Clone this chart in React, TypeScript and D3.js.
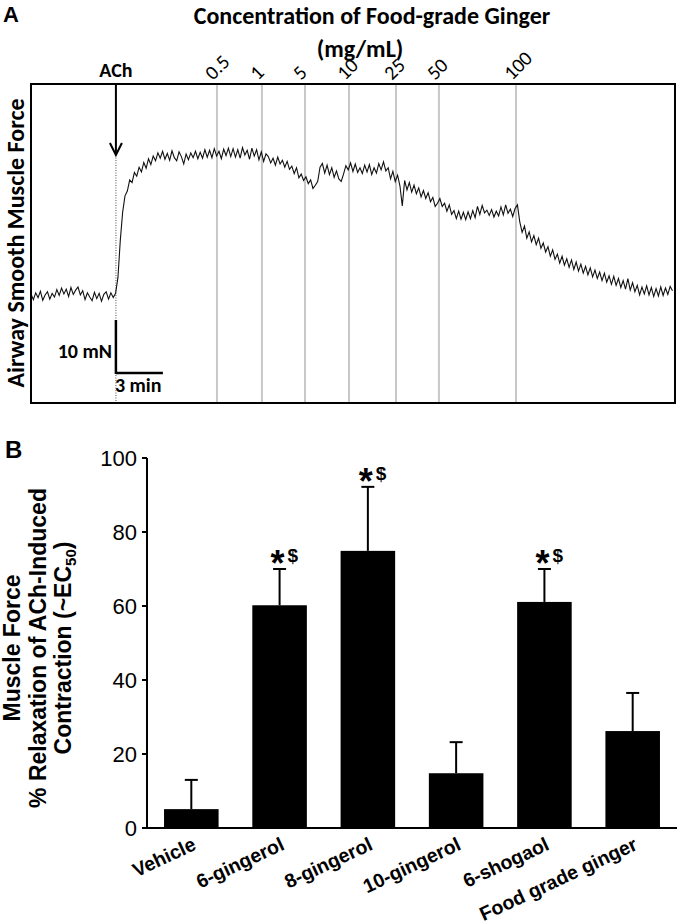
import React from 'react';
import * as d3 from 'd3';

// ---------- Panel A data ----------
const concLabels = ['0.5', '1', '5', '10', '25', '50', '100'];
const concTimes = [11.87, 14.74, 17.49, 20.3, 23.3, 26.04, 30.96]; // min
const achTime = 5.42; // min
const sampleStep = 0.15; // min between samples
const forceTrace = [
  0.4, -0.7, 0.6, -0.3, 0.9, -0.8, 0.2, 0.8, -0.6, 0.5, -0.2, 1.2, 0.1, 1.5, 0.4, 1.3, -0.1, 1.6, 0.3, 1.1,
  1.7, 0.2, 1.0, -0.7, 0.6, -0.2, -0.9, 0.7, -0.5, 0.5, -1.0, 0.3, 0.8, -0.6, 0.6, -0.3, 0.5,
  3.5, 10.5, 15.8, 18.9, 19.8, 21.9, 21.4, 23.3, 22.6, 24.3, 23.4, 25.2, 24.1, 25.9, 24.8, 26.4, 25.5, 27.0, 26.0,
  27.3, 25.8, 26.9, 25.6, 27.4, 26.1, 25.5, 27.2, 26.3, 24.9,
  26.8, 25.7, 27.0, 26.1, 27.3, 25.9, 27.1, 26.0, 27.6, 26.2,
  27.5, 26.1, 27.8, 26.4, 27.3, 25.9, 27.7, 26.5, 27.9, 26.3,
  27.8, 26.2, 27.6, 26.0, 28.0, 26.6, 27.5, 25.8, 27.9, 26.4,
  27.6, 25.7, 27.2, 25.4, 26.8,
  26.3, 25.1, 26.0, 24.7, 26.2, 24.9, 25.6, 24.3, 25.4, 23.9,
  24.5, 23.1, 24.2, 22.3, 23.0, 21.8, 22.5, 21.2, 21.9, 20.3,
  20.9, 21.6, 24.3, 25.0, 23.2, 24.7, 22.9, 24.2, 22.4, 23.6,
  22.1, 21.6, 23.0, 24.6, 23.8, 25.1, 23.5, 24.9, 23.3, 24.2,
  23.1, 24.7, 23.4, 24.8, 22.9, 24.2, 23.2, 25.0, 23.8, 25.3,
  23.6, 24.2, 22.1, 23.5, 21.6, 22.8, 20.8, 17.0, 21.8, 20.0,
  21.4, 19.6, 20.9, 19.3, 20.4, 18.7, 19.9, 18.4, 19.5, 17.8,
  18.6, 16.9, 17.5, 18.4, 16.9, 17.5, 16.0, 17.2, 15.4, 16.1,
  14.6, 16.0, 14.5, 15.8, 14.4, 15.9, 14.6, 16.1, 14.8, 16.9,
  15.4, 17.1, 15.7, 16.2, 15.2, 16.3, 14.9, 16.0, 15.1, 16.8,
  15.3, 17.2, 15.6, 16.4, 15.0, 16.5, 17.2, 14.0, 12.0, 13.2,
  10.9, 12.1, 10.2, 11.4, 9.7, 10.9, 9.0, 10.0, 8.3, 9.3,
  7.5, 8.7, 6.9, 7.9, 6.2, 7.5, 5.8, 7.0, 5.4, 6.8,
  5.0, 6.4, 4.7, 6.0, 4.3, 5.6, 4.0, 5.3, 3.6, 4.9,
  3.3, 4.5, 2.9, 4.3, 2.6, 3.8, 2.2, 3.7, 2.0, 3.3,
  1.6, 2.9, 1.3, 3.3, 1.1, 2.5, 0.8, 2.0, 0.2, 1.7,
  0.4, 1.9, 0.2, 1.6, -0.1, 1.4, 0.0, 1.7, 0.1, 1.5, 0.3, 1.8, 1.0,
];
const scaleForce = 10; // mN
const scaleTime = 3; // min

// ---------- Panel B data ----------
const categories = ['Vehicle', '6-gingerol', '8-gingerol', '10-gingerol', '6-shogaol', 'Food grade ginger'];
const relaxMean = [5.1, 60.2, 74.9, 14.8, 61.1, 26.2];
const relaxSEM = [7.9, 9.8, 17.3, 8.4, 8.9, 10.3];
const significant = [false, true, true, false, true, false];
const yTicks = [0, 20, 40, 60, 80, 100];

const CAL = 'Carlito, Lato, "Open Sans", sans-serif';
const ARIAL = '"Liberation Sans", Arial, sans-serif';

export default function App() {
  // Panel A scales
  const xT = d3.scaleLinear().domain([0, 41]).range([31, 673.3]);
  const yF = d3.scaleLinear().domain([-20.19, 40]).range([403, 84]);
  const boxL = 31, boxR = 675, boxT = 84, boxB = 403;
  const line = d3
    .line<number>()
    .x((_, i) => xT(i * sampleStep))
    .y((d) => yF(d));
  const ax = xT(achTime);
  const sbTop = yF(-14.53 + scaleForce);
  const sbBot = yF(-14.53);
  const sbRight = xT(achTime + scaleTime);

  // Panel B scales
  const xB = d3.scaleBand<string>().domain(categories).range([147, 677]).paddingInner(0.382).paddingOuter(0.193);
  const yB = d3.scaleLinear().domain([0, 100]).range([828, 458]);
  const bw = xB.bandwidth();

  return (
    <svg width={680} height={924} style={{ position: 'absolute', left: 0, top: 0, background: '#fff' }}>
      <rect x={0} y={0} width={680} height={924} fill="#fff" />
      {/* ---------------- Panel A ---------------- */}
      <text x={3} y={22} fontFamily={ARIAL} fontWeight="bold" fontSize={22}>A</text>
      <text x={372} y={24} textAnchor="middle" fontFamily={CAL} fontWeight="bold" fontSize={24}>
        Concentration of Food-grade Ginger
      </text>
      <text x={360} y={57} textAnchor="middle" fontFamily={CAL} fontWeight="bold" fontSize={24}>
        (mg/mL)
      </text>
      <text x={ax} y={77} textAnchor="middle" fontFamily={CAL} fontWeight="bold" fontSize={20}>ACh</text>
      {concTimes.map((t, i) => (
        <g key={i}>
          <line x1={xT(t)} x2={xT(t)} y1={boxT} y2={boxB} stroke="#c8c8c8" strokeWidth={2} />
          <text
            transform={`translate(${xT(t) - 4},${81}) rotate(-45)`}
            fontFamily={CAL}
            fontSize={20}
          >
            {concLabels[i]}
          </text>
        </g>
      ))}
      {/* dotted line under arrow */}
      <line x1={ax} x2={ax} y1={155} y2={boxB} stroke="#555" strokeWidth={1} strokeDasharray="1,1.5" />
      {/* trace */}
      <path d={line(forceTrace) || ''} fill="none" stroke="#111" strokeWidth={1.1} />
      {/* arrow */}
      <line x1={ax} x2={ax} y1={boxT} y2={154} stroke="#000" strokeWidth={2} />
      <path d={`M${ax - 6},${143} L${ax},${155} L${ax + 6},${143}`} fill="none" stroke="#000" strokeWidth={2} />
      {/* scale bar */}
      <line x1={ax} x2={ax} y1={sbTop} y2={sbBot + 1} stroke="#000" strokeWidth={2.5} />
      <line x1={ax} x2={sbRight} y1={sbBot} y2={sbBot} stroke="#000" strokeWidth={2.5} />
      <text x={ax - 4} y={358} textAnchor="end" fontFamily={CAL} fontWeight="bold" fontSize={20}>10 mN</text>
      <text x={ax - 1} y={392} fontFamily={CAL} fontWeight="bold" fontSize={20}>3 min</text>
      {/* box */}
      <rect x={boxL} y={boxT} width={boxR - boxL} height={boxB - boxT} fill="none" stroke="#000" strokeWidth={2} />
      <text
        transform={`translate(24,${243}) rotate(-90)`}
        textAnchor="middle"
        fontFamily={CAL}
        fontWeight="bold"
        fontSize={24}
      >
        Airway Smooth Muscle Force
      </text>

      {/* ---------------- Panel B ---------------- */}
      <text x={5} y={458} fontFamily={ARIAL} fontWeight="bold" fontSize={24}>B</text>
      {/* bars */}
      {categories.map((c, i) => {
        const x0 = xB(c) as number;
        const cx = x0 + bw / 2;
        const top = yB(relaxMean[i]);
        const et = yB(relaxMean[i] + relaxSEM[i]);
        return (
          <g key={c}>
            <rect x={x0} y={top} width={bw} height={yB(0) - top} fill="#000" />
            <line x1={cx} x2={cx} y1={top} y2={et} stroke="#000" strokeWidth={2} />
            <line x1={cx - 6.5} x2={cx + 6.5} y1={et} y2={et} stroke="#000" strokeWidth={2} />
            {significant[i] && (
              <g>
                <text x={cx - 2} y={et + 7} textAnchor="middle" fontFamily={ARIAL} fontWeight="bold" fontSize={36}>*</text>
                <text x={cx + 8} y={et - 7} fontFamily={ARIAL} fontWeight="bold" fontSize={19}>$</text>
              </g>
            )}
            <text
              transform={`translate(${cx + 6},${849}) rotate(-25)`}
              textAnchor="end"
              fontFamily={ARIAL}
              fontWeight="bold"
              fontSize={19.5}
            >
              {c}
            </text>
          </g>
        );
      })}
      {/* axes */}
      <line x1={147} x2={147} y1={yB(100)} y2={yB(0)} stroke="#000" strokeWidth={2} />
      <line x1={142} x2={677} y1={yB(0)} y2={yB(0)} stroke="#000" strokeWidth={2} />
      {yTicks.map((t) => (
        <g key={t}>
          <line x1={142} x2={147} y1={yB(t)} y2={yB(t)} stroke="#000" strokeWidth={2} />
          <text x={137} y={yB(t)} dy="0.36em" textAnchor="end" fontFamily={ARIAL} fontSize={22}>
            {t}
          </text>
        </g>
      ))}
      {/* y label */}
      <g fontFamily={ARIAL} fontWeight="bold" fontSize={23} textAnchor="middle">
        <text transform={`translate(20,648) rotate(-90)`}>Muscle Force</text>
        <text transform={`translate(46,648) rotate(-90)`}>% Relaxation of ACh-Induced</text>
        <text transform={`translate(71,648) rotate(-90)`}>
          <tspan>Contraction (~EC</tspan>
          <tspan fontSize={15} dy={5}>50</tspan>
          <tspan dy={-5}>)</tspan>
        </text>
      </g>
    </svg>
  );
}
